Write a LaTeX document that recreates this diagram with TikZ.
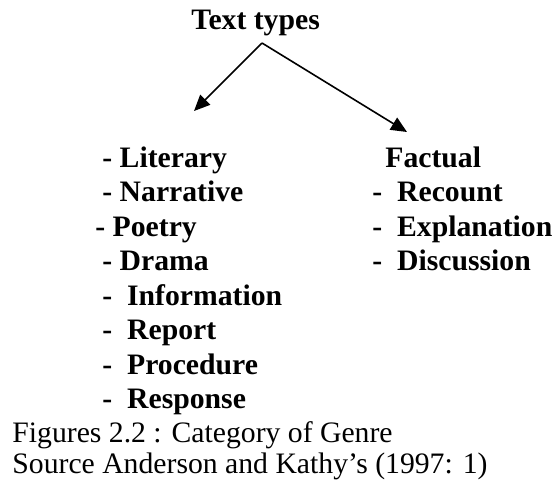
\documentclass[tikz,border=0pt]{standalone}
\usepackage{fontspec}
\setmainfont{Liberation Serif}
\usetikzlibrary{arrows.meta}

\begin{document}
\begin{tikzpicture}[x=0.5pt, y=-0.5pt,
    every node/.style={inner sep=0pt, anchor=base west, font=\fontsize{14.85}{17}\selectfont\bfseries},
    caption/.style={font=\fontsize{14.85}{17}\selectfont},
    branch/.style={line width=0.8pt, -{Triangle[length=8pt, width=7pt]}}]
    \useasboundingbox (0, 0) rectangle (555, 484);

    \node (types) at (191, 29) {Text types};
    \coordinate (fork) at (262, 43);
    \coordinate (littip) at (194, 111);
    \coordinate (factip) at (407, 132);
    \draw[branch] (fork) -- (littip);
    \draw[branch] (fork) -- (factip);

    % left column
    \node (literary) at (102, 167) {- Literary};
    \node (narrative) at (102, 201) {- Narrative};
    \node (poetry) at (95, 236) {- Poetry};
    \node (drama) at (102, 270) {- Drama};
    \node (information) at (102, 305) {-~~Information};
    \node (report) at (102, 339) {-~~Report};
    \node (procedure) at (102, 374) {-~~Procedure};
    \node (response) at (102, 408) {-~~Response};

    % right column
    \node (factual) at (385, 167) {Factual};
    \node (recount) at (372, 201) {-~~Recount};
    \node (explanation) at (372, 236) {-~~Explanation};
    \node (discussion) at (372, 270) {-~~Discussion};

    \node[caption] (figure) at (12, 442) {Figures 2.2 : Category of Genre};
    \node[caption] (source) at (12, 473) {Source Anderson and Kathy’s (1997: 1)};
\end{tikzpicture}
\end{document}
